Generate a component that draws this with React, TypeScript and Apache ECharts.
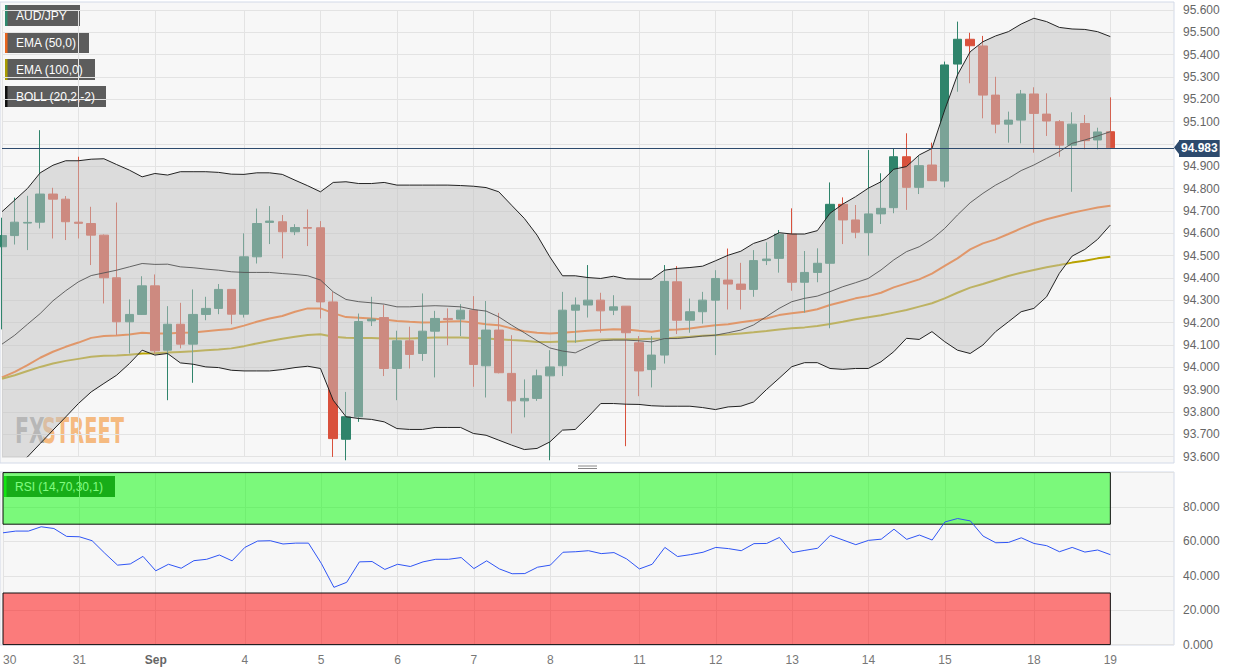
import React, { useEffect, useRef } from "react";
import * as echarts from "echarts";

// 4h candles, index 0 = Aug 30 00:00, index 87 = Sep 19 00:00
const slotCount = 93;
const dayTicks: [number, string][] = [
  [0, "30"], [6, "31"], [12, "Sep"], [19, "4"], [25, "5"], [31, "6"], [37, "7"], [43, "8"],
  [50, "11"], [56, "12"], [62, "13"], [68, "14"], [74, "15"], [81, "18"], [87, "19"],
];

// [open, close, low, high]
const candles: number[][] = [
  [94.54, 94.59, 94.17, 94.67], [94.59, 94.65, 94.55, 94.76], [94.646, 94.649, 94.525, 94.768],
  [94.65, 94.776, 94.622, 95.062], [94.776, 94.753, 94.577, 94.804], [94.753, 94.652, 94.57, 94.767],
  [94.65, 94.645, 94.577, 94.943], [94.644, 94.592, 94.458, 94.719], [94.592, 94.401, 94.286, 94.595],
  [94.401, 94.204, 94.144, 94.738], [94.204, 94.237, 94.062, 94.304], [94.237, 94.365, 94.235, 94.408],
  [94.365, 94.074, 94.062, 94.416], [94.077, 94.193, 93.853, 94.274], [94.193, 94.104, 94.085, 94.289],
  [94.104, 94.237, 93.931, 94.349], [94.237, 94.264, 94.211, 94.316], [94.264, 94.349, 94.238, 94.373],
  [94.349, 94.238, 94.193, 94.349], [94.238, 94.495, 94.223, 94.6], [94.495, 94.644, 94.465, 94.711],
  [94.649, 94.655, 94.552, 94.722], [94.652, 94.607, 94.488, 94.682], [94.607, 94.626, 94.592, 94.641],
  [94.626, 94.623, 94.543, 94.707], [94.625, 94.293, 94.219, 94.655], [94.293, 93.681, 93.599, 94.338],
  [93.678, 93.779, 93.584, 93.89], [93.779, 94.205, 93.756, 94.241], [94.208, 94.216, 94.185, 94.316],
  [94.223, 93.995, 93.961, 94.279], [93.995, 94.119, 93.853, 94.164], [94.119, 94.058, 93.995, 94.182],
  [94.062, 94.162, 94.029, 94.331], [94.162, 94.219, 93.955, 94.253], [94.219, 94.214, 94.099, 94.264],
  [94.216, 94.256, 94.14, 94.283], [94.256, 94.013, 93.913, 94.319], [94.007, 94.167, 93.865, 94.297],
  [94.167, 93.976, 93.973, 94.244], [93.973, 93.85, 93.704, 94.144], [93.85, 93.861, 93.776, 93.946],
  [93.861, 93.962, 93.85, 93.99], [93.962, 94.002, 93.584, 94.077], [94.007, 94.256, 93.961, 94.338],
  [94.256, 94.279, 94.11, 94.313], [94.279, 94.301, 94.223, 94.458], [94.301, 94.253, 94.155, 94.334],
  [94.256, 94.271, 94.234, 94.323], [94.274, 94.155, 93.647, 94.274], [94.11, 93.984, 93.871, 94.14],
  [93.99, 94.055, 93.91, 94.14], [94.055, 94.385, 94.017, 94.458], [94.383, 94.211, 94.149, 94.453],
  [94.211, 94.249, 94.155, 94.308], [94.249, 94.301, 94.196, 94.338], [94.301, 94.398, 94.055, 94.435],
  [94.391, 94.373, 94.259, 94.532], [94.373, 94.349, 94.259, 94.468], [94.349, 94.478, 94.316, 94.525],
  [94.478, 94.485, 94.458, 94.56], [94.488, 94.596, 94.424, 94.615], [94.596, 94.381, 94.343, 94.712],
  [94.381, 94.425, 94.245, 94.521], [94.425, 94.466, 94.381, 94.533], [94.466, 94.73, 94.175, 94.828],
  [94.73, 94.66, 94.552, 94.761], [94.66, 94.605, 94.578, 94.727], [94.603, 94.687, 94.5, 94.973],
  [94.687, 94.712, 94.642, 94.869], [94.715, 94.943, 94.69, 94.981], [94.943, 94.806, 94.705, 95.048],
  [94.806, 94.903, 94.776, 94.946], [94.906, 94.836, 94.836, 95.006], [94.834, 95.354, 94.806, 95.369],
  [95.358, 95.469, 95.234, 95.548], [95.469, 95.44, 95.272, 95.498], [95.439, 95.219, 95.115, 95.484],
  [95.219, 95.089, 95.048, 95.301], [95.089, 95.107, 95.006, 95.145], [95.107, 95.224, 95.003, 95.242],
  [95.224, 95.137, 94.961, 95.254], [95.134, 95.103, 95.036, 95.227], [95.1, 94.995, 94.943, 95.107],
  [94.995, 95.089, 94.786, 95.142], [95.092, 95.015, 94.976, 95.13], [95.018, 95.054, 94.976, 95.073],
  [95.055, 94.983, 94.983, 95.209],
];

const ema50 = [
  93.955, 93.98, 94.01, 94.043, 94.07, 94.092, 94.111, 94.132, 94.14, 94.143, 94.147, 94.155, 94.152, 94.152, 94.155,
  94.156, 94.162, 94.167, 94.172, 94.187, 94.204, 94.219, 94.23, 94.249, 94.264, 94.264, 94.243, 94.225, 94.222, 94.219,
  94.214, 94.208, 94.204, 94.201, 94.202, 94.205, 94.207, 94.201, 94.193, 94.189, 94.174, 94.162, 94.155, 94.152, 94.155,
  94.159, 94.164, 94.167, 94.171, 94.17, 94.164, 94.159, 94.167, 94.17, 94.174, 94.182, 94.189, 94.193, 94.202, 94.21,
  94.219, 94.234, 94.242, 94.249, 94.26, 94.279, 94.294, 94.309, 94.319, 94.334, 94.358, 94.376, 94.394, 94.42, 94.454,
  94.488, 94.528, 94.555, 94.573, 94.597, 94.622, 94.645, 94.663, 94.678, 94.692, 94.704, 94.716, 94.724,
];

const ema100 = [
  93.949, 93.965, 93.984, 94.002, 94.017, 94.029, 94.038, 94.047, 94.052, 94.053, 94.056, 94.062, 94.063, 94.066, 94.069,
  94.072, 94.077, 94.08, 94.085, 94.095, 94.107, 94.118, 94.128, 94.137, 94.145, 94.148, 94.137, 94.133, 94.131, 94.131,
  94.129, 94.129, 94.129, 94.132, 94.134, 94.134, 94.134, 94.132, 94.129, 94.126, 94.122, 94.119, 94.114, 94.114, 94.116,
  94.116, 94.122, 94.125, 94.126, 94.126, 94.126, 94.128, 94.129, 94.134, 94.137, 94.141, 94.144, 94.147, 94.152, 94.157,
  94.163, 94.17, 94.175, 94.179, 94.185, 94.194, 94.204, 94.215, 94.224, 94.233, 94.245, 94.257, 94.272, 94.287, 94.309,
  94.334, 94.357, 94.373, 94.391, 94.409, 94.424, 94.436, 94.448, 94.458, 94.469, 94.477, 94.488, 94.495,
];

const bollUpper = [
  94.697, 94.749, 94.801, 94.871, 94.905, 94.925, 94.925, 94.932, 94.934, 94.908, 94.883, 94.853, 94.868, 94.861, 94.876,
  94.876, 94.876, 94.873, 94.865, 94.864, 94.871, 94.871, 94.864, 94.838, 94.813, 94.786, 94.828, 94.831, 94.823, 94.823,
  94.828, 94.816, 94.816, 94.816, 94.816, 94.816, 94.814, 94.811, 94.805, 94.786, 94.726, 94.667, 94.592, 94.495, 94.41,
  94.41, 94.402, 94.398, 94.408, 94.396, 94.395, 94.395, 94.435, 94.443, 94.447, 94.453, 94.477, 94.502, 94.52, 94.555,
  94.573, 94.603, 94.597, 94.597, 94.612, 94.69, 94.731, 94.764, 94.802, 94.831, 94.887, 94.899, 94.951, 94.98, 95.152,
  95.309, 95.413, 95.458, 95.484, 95.503, 95.537, 95.563, 95.548, 95.522, 95.515, 95.513, 95.503, 95.481,
];

const bollMid = [
  94.104, 94.144, 94.193, 94.241, 94.298, 94.343, 94.383, 94.411, 94.423, 94.435, 94.45, 94.465, 94.461, 94.462, 94.45,
  94.446, 94.44, 94.435, 94.428, 94.425, 94.425, 94.425, 94.42, 94.416, 94.41, 94.391, 94.338, 94.304, 94.294, 94.289,
  94.283, 94.271, 94.271, 94.274, 94.276, 94.274, 94.271, 94.259, 94.252, 94.226, 94.189, 94.155, 94.119, 94.087, 94.073,
  94.065, 94.092, 94.119, 94.122, 94.122, 94.119, 94.114, 94.129, 94.129, 94.134, 94.14, 94.144, 94.155, 94.167, 94.19,
  94.227, 94.264, 94.294, 94.309, 94.319, 94.339, 94.361, 94.379, 94.398, 94.436, 94.481, 94.518, 94.54, 94.574, 94.622,
  94.682, 94.737, 94.779, 94.816, 94.846, 94.881, 94.906, 94.936, 94.966, 95.003, 95.018, 95.036, 95.055,
];

const bollLower = [
  93.505, 93.545, 93.599, 93.659, 93.719, 93.778, 93.838, 93.89, 93.928, 93.965, 94.017, 94.077, 94.055, 94.062, 94.02,
  94.014, 94.002, 93.999, 93.987, 93.984, 93.984, 93.984, 93.99, 93.999, 94.005, 93.995, 93.853, 93.779, 93.771, 93.767,
  93.756, 93.726, 93.722, 93.722, 93.731, 93.731, 93.731, 93.704, 93.696, 93.674, 93.652, 93.632, 93.637, 93.666, 93.719,
  93.722, 93.778, 93.838, 93.838, 93.835, 93.834, 93.828, 93.826, 93.826, 93.826, 93.82, 93.811, 93.823, 93.826, 93.845,
  93.9, 93.951, 94.003, 94.021, 94.021, 93.995, 93.991, 93.995, 93.995, 94.025, 94.07, 94.13, 94.125, 94.16, 94.115,
  94.077, 94.062, 94.1, 94.16, 94.204, 94.249, 94.264, 94.316, 94.421, 94.498, 94.528, 94.573, 94.637,
];

const rsi = [
  65.0, 66.0, 66.0, 68.5, 67.5, 62.9, 62.7, 60.4, 53.1, 46.2, 46.9, 51.3, 42.9, 46.7, 44.4, 48.8, 49.6, 52.1, 48.7, 56.5,
  60.2, 60.4, 58.5, 59.0, 59.0, 47.3, 33.3, 36.2, 48.1, 48.3, 43.7, 46.7, 45.4, 48.1, 49.6, 49.6, 50.6, 44.2, 48.7, 44.0,
  41.2, 41.3, 45.0, 46.2, 53.7, 54.0, 54.6, 52.9, 53.5, 49.8, 44.0, 46.7, 56.5, 51.2, 52.3, 53.7, 56.5, 55.8, 54.6, 58.7,
  58.8, 62.3, 53.5, 54.8, 56.0, 63.5, 60.8, 58.1, 60.6, 61.3, 67.1, 61.2, 63.7, 60.8, 71.3, 73.3, 71.9, 63.1, 59.2, 59.4,
  62.1, 58.8, 57.5, 54.0, 56.5, 53.8, 55.0, 52.3,
];

const legendItems: [string, string, number][] = [
  ["AUD/JPY", "#2e8a6e", 75],
  ["EMA (50,0)", "#e8651e", 84],
  ["EMA (100,0)", "#a89b00", 90],
  ["BOLL (20,2,-2)", "#111111", 101],
];

const UP = "#2f846b";
const DOWN = "#d9513c";
const FONT = '"Liberation Sans", Arial, sans-serif';
const GRID_LINE = "#e3e3e3";
const TAG = "#2d4a6d";

export default function App() {
  const ref = useRef<HTMLDivElement | null>(null);

  useEffect(() => {
    const chart = echarts.init(ref.current!, undefined, { renderer: "svg" });
    const cats = Array.from({ length: slotCount }, (_, i) => String(i));
    const tickMap = new Map(dayTicks);
    const isTick = (i: number) => tickMap.has(i);
    const lastClose = candles[candles.length - 1][1];
    const bandWidth = bollUpper.map((u, i) => +(u - bollLower[i]).toFixed(3));

    const legendGraphics = legendItems.map(([label, color, w], k) => ({
      type: "group",
      x: 5,
      y: 5 + k * 27,
      z: 100,
      silent: true,
      children: [
        { type: "rect", shape: { x: 0, y: 0, width: w, height: 21 }, style: { fill: "#5c5c5c" } },
        { type: "rect", shape: { x: 0, y: 0, width: 2.5, height: 21 }, style: { fill: color } },
        {
          type: "text",
          style: { text: label, x: 11, y: 11, verticalAlign: "middle", fill: "#fff", font: `12px ${FONT}` },
        },
      ],
    }));

    chart.setOption({
      animation: false,
      backgroundColor: "#ffffff",
      textStyle: { fontFamily: FONT },
      grid: [
        { left: 2, right: 65, top: 10, height: 446.7 },
        { left: 2, right: 65, top: 472.6, height: 172 },
      ],
      xAxis: [0, 1].map((g) => ({
        type: "category",
        gridIndex: g,
        data: cats,
        boundaryGap: false,
        axisLine: { show: false },
        axisTick: { show: false },
        axisLabel:
          g === 0
            ? { show: false }
            : {
                show: true,
                interval: (i: number) => isTick(i),
                formatter: (v: string) => {
                  const l = tickMap.get(Number(v));
                  return l === "Sep" ? "{b|Sep}" : l ?? "";
                },
                color: "#777",
                fontSize: 12,
                margin: 9,
                alignMinLabel: "left",
                rich: { b: { fontWeight: "bold", color: "#666", fontSize: 12 } },
              },
        splitLine: { show: true, interval: (i: number) => isTick(i), lineStyle: { color: GRID_LINE } },
      })),
      yAxis: [
        {
          type: "value",
          gridIndex: 0,
          position: "right",
          min: 93.6,
          max: 95.6,
          interval: 0.1,
          axisLine: { show: false },
          axisTick: { show: false },
          axisLabel: {
            // the last-price tag covers the tick label next to it
            formatter: (v: number) => (Math.abs(v - lastClose) < 0.05 ? "" : v.toFixed(3)),
            color: "#666",
            fontSize: 12,
            margin: 9,
          },
          splitLine: { lineStyle: { color: GRID_LINE } },
        },
        {
          type: "value",
          gridIndex: 1,
          position: "right",
          min: 0,
          max: 100,
          interval: 20,
          axisLine: { show: false },
          axisTick: { show: false },
          axisLabel: {
            formatter: (v: number) => (v >= 100 ? "" : v.toFixed(3)),
            color: "#666",
            fontSize: 12,
            margin: 9,
          },
          splitLine: { lineStyle: { color: GRID_LINE } },
        },
      ],
      series: [
        {
          name: "AUD/JPY",
          type: "candlestick",
          xAxisIndex: 0,
          yAxisIndex: 0,
          data: candles,
          barWidth: 9,
          clip: false,
          z: 2,
          itemStyle: { color: UP, color0: DOWN, borderColor: UP, borderColor0: DOWN, borderWidth: 1 },
          markLine: {
            silent: true,
            symbol: ["none", "none"],
            data: [{ yAxis: lastClose }],
            lineStyle: { color: TAG, width: 1, type: "solid" },
            label: {
              show: true,
              position: "end",
              distance: 5,
              formatter: lastClose.toFixed(3),
              color: "#fff",
              backgroundColor: TAG,
              fontWeight: "bold",
              fontSize: 12,
              padding: [3, 2, 2, 2],
            },
          },
        },
        {
          name: "EMA (50,0)",
          type: "line",
          data: ema50,
          symbol: "none",
          z: 2,
          lineStyle: { color: "#ff6a10", width: 2 },
        },
        {
          name: "EMA (100,0)",
          type: "line",
          data: ema100,
          symbol: "none",
          z: 2,
          lineStyle: { color: "#b8a200", width: 2 },
        },
        {
          name: "band-base",
          type: "line",
          data: bollLower,
          stack: "boll",
          symbol: "none",
          z: 3,
          lineStyle: { opacity: 0 },
        },
        {
          name: "band-fill",
          type: "line",
          data: bandWidth,
          stack: "boll",
          symbol: "none",
          z: 3,
          lineStyle: { opacity: 0 },
          areaStyle: { color: "rgb(195,195,195)", opacity: 0.51 },
        },
        {
          name: "BOLL upper",
          type: "line",
          data: bollUpper,
          symbol: "none",
          z: 4,
          lineStyle: { color: "#222", width: 1 },
        },
        {
          name: "BOLL mid",
          type: "line",
          data: bollMid,
          symbol: "none",
          z: 4,
          lineStyle: { color: "#555", width: 0.9 },
        },
        {
          name: "BOLL lower",
          type: "line",
          data: bollLower,
          symbol: "none",
          z: 4,
          lineStyle: { color: "#222", width: 1 },
        },
        {
          name: "RSI",
          type: "line",
          xAxisIndex: 1,
          yAxisIndex: 1,
          data: rsi,
          symbol: "none",
          z: 3,
          lineStyle: { color: "#2f55f5", width: 1 },
          markArea: {
            silent: true,
            data: [
              [
                { xAxis: 0, yAxis: 70, itemStyle: { color: "rgba(0,252,0,0.5)", borderColor: "#111", borderWidth: 1 } },
                { xAxis: 87, yAxis: 100 },
              ],
              [
                { xAxis: 0, yAxis: 0, itemStyle: { color: "rgba(255,0,0,0.5)", borderColor: "#111", borderWidth: 1 } },
                { xAxis: 87, yAxis: 30 },
              ],
            ],
          },
        },
      ],
      graphic: [
        {
          type: "rect",
          z: -10,
          silent: true,
          shape: { x: 0, y: 2, width: 1174, height: 461 },
          style: { fill: "#f7f7f7", stroke: "#d3dae8", lineWidth: 1 },
        },
        {
          type: "rect",
          z: -10,
          silent: true,
          shape: { x: 0, y: 472, width: 1174, height: 173 },
          style: { fill: "#f7f7f7", stroke: "#d3dae8", lineWidth: 1 },
        },
        { type: "line", silent: true, shape: { x1: 578, y1: 466, x2: 597, y2: 466 }, style: { stroke: "#888", lineWidth: 1 } },
        { type: "line", silent: true, shape: { x1: 578, y1: 468.5, x2: 597, y2: 468.5 }, style: { stroke: "#888", lineWidth: 1 } },
        // small arrow on the last-price tag
        {
          type: "polygon",
          z: 100,
          silent: true,
          shape: { points: [[1174, 147.5], [1179, 141], [1179, 154]] },
          style: { fill: TAG },
        },
        {
          type: "text",
          x: 15,
          y: 430,
          scaleX: 0.63,
          z: -5,
          silent: true,
          style: {
            text: "FX",
            x: 0,
            y: 0,
            verticalAlign: "middle",
            fill: "rgba(150,150,150,0.8)",
            font: 'bold 36px "DejaVu Sans Condensed", "DejaVu Sans", sans-serif',
          },
        },
        {
          type: "text",
          x: 42,
          y: 430,
          scaleX: 0.6,
          z: -5,
          silent: true,
          style: {
            text: "STREET",
            x: 0,
            y: 0,
            verticalAlign: "middle",
            fill: "rgba(245,170,95,0.8)",
            font: 'bold 36px "DejaVu Sans Condensed", "DejaVu Sans", sans-serif',
          },
        },
        ...legendGraphics,
        {
          type: "group",
          x: 4,
          y: 476,
          z: 100,
          silent: true,
          children: [
            { type: "rect", shape: { x: 0, y: 0, width: 111, height: 21 }, style: { fill: "#2f5e30" } },
            { type: "rect", shape: { x: 0, y: 0, width: 2.5, height: 21 }, style: { fill: "#22cc22" } },
            {
              type: "text",
              style: { text: "RSI (14,70,30,1)", x: 11, y: 11, verticalAlign: "middle", fill: "#fff", font: `12px ${FONT}` },
            },
          ],
        },
      ],
    });

    return () => chart.dispose();
  }, []);

  return (
    <div
      ref={ref}
      style={{ position: "fixed", left: 0, top: 0, width: 1239, height: 672, background: "#fff" }}
    />
  );
}
